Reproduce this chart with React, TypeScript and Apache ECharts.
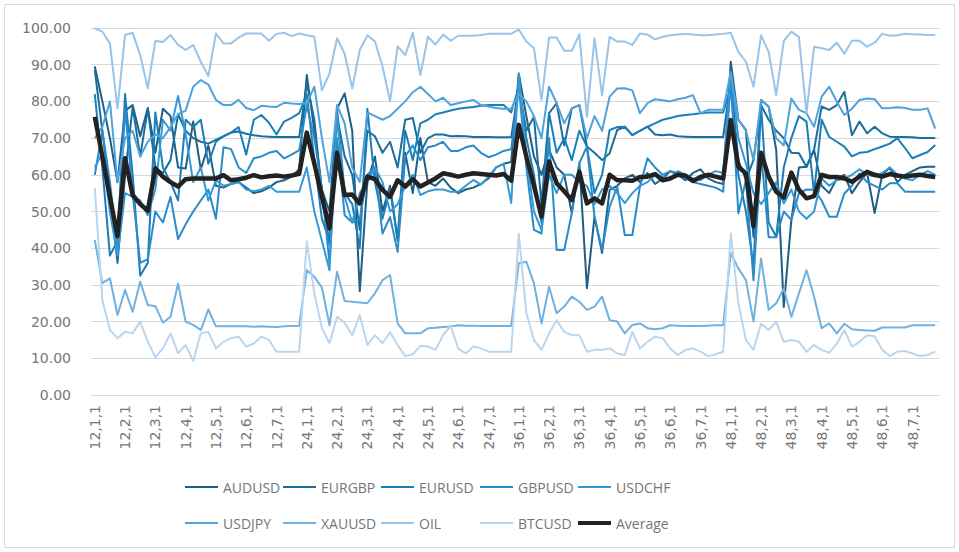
import React, { useEffect, useRef } from "react";
import * as echarts from "echarts";

const PERIODS = [12, 24, 36, 48];
const MONTHS = [1, 2, 3, 4, 5, 6, 7];
const WEEKS = [1, 2, 3, 4];
const CATEGORIES = PERIODS.flatMap((p) => MONTHS.flatMap((m) => WEEKS.map((w) => `${p},${m},${w}`)));

const AUDUSD = [
  89.5, 80, 70, 58, 77.5, 79, 70.5, 78.2, 66, 78, 76, 62, 61.7, 74.5, 61.5, 68, 57, 56.5, 57.5, 58, 56.5, 55, 55.5, 56.5, 58, 58.5, 59.5, 61.5,
  87.2, 72, 56, 50, 78, 82.2, 72, 28.3, 58, 65, 50, 57, 42, 66, 55, 70, 58, 57, 59, 56.5, 55, 56, 56.5, 57.5, 59, 62, 63, 63.5,
  87.6, 76, 65, 60, 66.8, 62, 60, 49.5, 63.2, 29.1, 48.6, 38.7, 55.9, 57, 59, 60, 58, 60.5, 57.5, 59, 61, 60, 58.5, 60.5, 61.5, 59, 58, 57.5,
  90.8, 75, 72.2, 43.1, 80.4, 78.6, 66.8, 24, 47.7, 62, 62.2, 66.8, 57, 55, 59, 60, 55, 58, 60.5, 49.6, 60, 62, 58, 60, 61, 62, 62.2, 62.2,
];
const EURGBP = [
  88.5, 72, 55, 36, 60, 78.5, 65, 78, 62, 60.5, 64, 76.5, 72, 70, 69, 68.5, 69.5, 70.5, 71.5, 71.8, 71.2, 70.8, 70.5, 70.4, 70.3, 70.3, 70.3, 70.3,
  85, 75, 55, 41, 76, 65, 60, 45, 72, 70.5, 66, 69, 62, 75, 75.5, 66, 70, 71, 71, 70.5, 70.6, 70.5, 70.3, 70.3, 70.3, 70.2, 70.2, 70.2,
  84, 72, 75.8, 52, 76.8, 79.5, 68, 78.1, 79, 67.7, 66, 64, 65.9, 72.2, 73.1, 70.8, 72, 73.1, 71, 70.8, 71, 70.5, 70.4, 70.3, 70.3, 70.3, 70.3, 70.3,
  85.8, 64, 58.6, 64, 79, 75, 72, 70, 66, 65.9, 62.2, 66.8, 78.6, 77.7, 79, 82.6, 70.8, 74.5, 71.3, 73.1, 71.3, 70.4, 70.3, 70.3, 70.2, 70, 70, 70,
];
const EURUSD = [
  82, 62, 38, 42, 82, 60, 32.5, 36, 77, 62, 58, 53, 75, 73, 75, 63, 69, 70.5, 71.5, 73, 65.5, 75, 76.3, 74.2, 71, 74.5, 75.5, 76.8,
  82, 64, 48, 42, 78, 55, 52, 40, 78, 58, 48, 56, 42.6, 72, 64, 74, 75, 76.5, 77, 77.5, 78, 78.3, 78.5, 78.8, 79, 79, 79, 77,
  84, 70, 60, 46.9, 76.8, 66, 70, 64, 72, 67.7, 55, 60, 72.2, 73, 73.1, 70.8, 72, 73.1, 74, 75, 75.5, 76, 76.3, 76.5, 76.8, 77, 77, 77,
  84, 60, 50, 35, 79, 47, 43.1, 62, 70, 76, 74.5, 55, 75, 70.3, 69, 67.7, 65, 66, 66.2, 67, 67.7, 68.5, 70, 67.3, 64.5, 65.4, 66.2, 68.1,
];
const GBPUSD = [
  60, 72, 58, 40, 78, 55, 36, 37, 50, 47, 54, 42.5, 46.5, 50, 53, 56, 48, 67.5, 67, 62, 60.5, 64.5, 65, 66, 66.5, 64.5, 65.5, 66.7,
  79, 70, 56, 36, 70, 49, 47, 48, 60, 62, 44, 48.5, 39, 65, 68, 64, 67.5, 68, 69, 66.5, 66.5, 67.5, 68, 66, 64.8, 65.5, 66.5, 67,
  84, 62, 45, 44, 70, 39.5, 39.5, 49.5, 63.2, 67.7, 48.6, 39.5, 51.3, 56.8, 43.6, 43.6, 56.8, 64.5, 62, 60, 61, 60.5, 59, 58, 57.5, 57, 56.5, 55.4,
  85.8, 49.5, 58.6, 31.3, 66, 43, 43, 50, 47.7, 55, 56, 55.9, 53, 48.6, 48.6, 54.9, 57, 60.4, 58, 57, 56, 57.7, 57.7, 55.4, 55.4, 55.4, 55.4, 55.4,
];
const USDCHF = [
  62, 66, 50, 38, 55, 54, 53, 49, 56, 75, 72, 81.5, 71, 58, 62, 53, 58.5, 57, 57.5, 58, 56, 55.5, 56, 57, 55.4, 55.4, 55.4, 55.4,
  62, 50, 42, 34, 76, 54, 47, 55, 58, 62, 58, 50, 52, 57, 60, 54.5, 55.5, 56, 56, 55.4, 55.4, 57, 58.6, 57.3, 59.5, 62, 63, 52.3,
  87.6, 65, 50, 45, 60, 55, 60, 60, 58, 57, 52, 56, 57, 55, 52.3, 55, 57, 58, 60, 59.5, 59, 61, 60, 59, 58.5, 60, 61, 60.5,
  88, 70, 63, 55, 52, 55, 58, 52.2, 56, 50, 48, 50, 59, 57, 58.5, 59, 60, 61.5, 60, 59.5, 60.5, 62, 60, 59, 58.5, 60, 61, 60,
];
const USDJPY = [
  70, 73, 80, 58, 70, 72, 65, 69, 71, 70, 73, 76.5, 77.5, 84, 85.8, 84.6, 80.4, 79, 79, 80.4, 78.2, 77.6, 78.8, 78.6, 78.5, 79.6, 79.4, 79.3,
  79.5, 84, 70, 58, 79, 74, 62, 58, 77, 76, 75, 76, 78, 80, 82.5, 84, 82, 80, 81, 79, 79.5, 80, 80.4, 79, 78.6, 78.2, 78, 78,
  82, 80, 76, 70, 84, 79.5, 74, 78.1, 79, 70, 76, 72, 81.3, 83.5, 83.6, 83, 76.8, 79.5, 80.6, 80.3, 80, 80.6, 81, 81.7, 76.8, 77.7, 77.7, 77.7,
  88, 75, 72, 64, 80.4, 78.6, 70, 68, 80.8, 77.7, 76.8, 73.1, 81.3, 84, 79.9, 76.3, 78, 80.4, 80.8, 80.6, 78.1, 78.2, 78.4, 78.2, 77.7, 77.7, 78.1, 72.6,
];
const XAUUSD = [
  42.2, 30.5, 31.8, 21.8, 28.6, 22.7, 30.9, 24.5, 24.2, 19.7, 21.3, 30.4, 20, 19.1, 17.7, 23.3, 18.7, 18.7, 18.7, 18.7, 18.7, 18.6, 18.7, 18.6, 18.5, 18.7, 18.8, 18.9,
  34, 32.2, 29.3, 19, 33.6, 25.6, 25.4, 25.2, 25, 27.7, 31.3, 32.7, 19.5, 16.8, 16.8, 16.8, 18.2, 18.3, 18.5, 18.7, 19, 18.9, 18.9, 18.8, 18.8, 18.8, 18.8, 18.8,
  35.9, 36.3, 30.4, 19.5, 29.5, 22.3, 24.1, 26.8, 25.4, 23.2, 24.1, 26.8, 20.4, 20, 16.8, 19.1, 19.5, 18.2, 17.9, 18.2, 19, 18.9, 18.8, 18.8, 18.8, 18.9, 19, 19,
  38.6, 34.5, 31.3, 20, 37.2, 23.2, 25, 29, 21.3, 27.7, 34, 26.8, 18.2, 19.5, 16.8, 19.4, 17.9, 17.7, 17.6, 17.5, 18.4, 18.4, 18.4, 18.4, 19, 19, 19, 19,
];
const OIL = [
  99.9, 99, 95.8, 78.1, 98.1, 98.7, 92.6, 83.6, 96.5, 96.2, 98.1, 95.4, 94, 95.4, 90.8, 86.9, 98.5, 95.8, 95.8, 97.4, 98.5, 98.5, 98.5, 96.5, 98.4, 98.7, 97.8, 98.5,
  98, 97.6, 83, 87.6, 97.2, 93, 83.5, 94, 98, 96.3, 89.5, 80, 95, 92.6, 98.7, 87.2, 97.6, 95.5, 98.2, 96.5, 97.9, 97.9, 97.9, 98.1, 98.4, 98.4, 98.4, 98.4,
  99.6, 96.3, 94.5, 80.4, 97.4, 97.4, 93.8, 93.8, 98.3, 75.8, 97.2, 81.7, 97.6, 96.3, 96.3, 95.4, 98.5, 98.2, 96.9, 97.6, 98, 98.2, 98.4, 98.2, 98, 98, 98.2, 98.4,
  98.7, 93.5, 90.8, 84, 98, 93.5, 81.7, 96.5, 99, 97.6, 76.8, 94.9, 94.5, 94, 96, 93, 96.5, 96.5, 94.9, 96, 98.4, 97.9, 98, 98.4, 98.3, 98.2, 98.1, 98.1,
];
const BTCUSD = [
  56.3, 25.9, 17.7, 15.5, 17.2, 16.8, 20, 14.5, 10.3, 12.7, 16.8, 11.4, 13.6, 9.3, 16.8, 17.2, 12.7, 14.5, 15.5, 15.9, 13.2, 14, 15.9, 15, 11.8, 11.8, 11.8, 11.8,
  41.8, 27.7, 18.2, 14.1, 21.3, 19.7, 16.3, 21.8, 13.6, 16.3, 14.1, 17.1, 13.6, 10.6, 11.1, 13.4, 13.2, 12.3, 16.3, 18.8, 12.7, 11.3, 13.2, 12.7, 11.8, 11.8, 11.8, 11.8,
  44, 22.3, 15, 12.3, 16.8, 20.4, 17.2, 16.3, 16.3, 11.8, 12.3, 12.3, 12.7, 11.3, 10.9, 17.2, 12.7, 14.5, 15.9, 15.5, 12.7, 10.9, 12.3, 12.7, 11.8, 10.6, 11.1, 11.8,
  44, 25, 15, 12.3, 19.5, 17.7, 20, 14.5, 15, 14.5, 11.8, 13.6, 12.3, 11.5, 14, 17.7, 13.2, 14.5, 16.3, 16, 12.3, 10.6, 11.8, 12, 11.3, 10.6, 10.9, 11.8,
];
const AVERAGE = [
  75.8, 65, 54, 43.3, 64.5, 54.5, 52, 50.2, 61.8, 59.5, 58, 56.8, 58.8, 59, 59, 59, 59, 59.9, 58.5, 58.8, 59.2, 59.9, 59.3, 59.6, 59.8, 59.5, 59.8, 60.3,
  71.5, 63, 54, 45.4, 66, 54.5, 54.6, 52.2, 59.5, 58.8, 55.9, 54, 58.5, 56.8, 58.8, 56.8, 57.9, 59, 60.4, 60, 59.5, 60, 60.4, 60.2, 60, 59.8, 60.2, 58.4,
  73.6, 65, 57, 48.6, 63.6, 57.7, 55.5, 53.1, 60.8, 52.2, 53.6, 52.2, 60, 58.5, 58.5, 58.4, 59.4, 59.5, 60.2, 58.5, 59, 60, 59.8, 58.3, 59.4, 60, 59.5, 59,
  74.9, 62.2, 60.4, 46, 66, 59.5, 55.4, 53.8, 60.6, 55.9, 53.6, 54.2, 60, 59.4, 59.4, 59, 58.1, 59.5, 60.8, 60, 59.5, 60.2, 59.8, 59.5, 59.8, 60, 59.7, 59.4,
];

const SERIES_NAMES = ["AUDUSD", "EURGBP", "EURUSD", "GBPUSD", "USDCHF", "USDJPY", "XAUUSD", "OIL", "BTCUSD", "Average"];
const SERIES_DATA = [AUDUSD, EURGBP, EURUSD, GBPUSD, USDCHF, USDJPY, XAUUSD, OIL, BTCUSD, AVERAGE];
const COLORS = ["#1f5e85", "#1b6d9e", "#1a7fb8", "#2a8bcb", "#3598d6", "#4ea3dd", "#70b1e2", "#98c4ea", "#bad6ef", "#222222"];

const TEXT_COLOR = "#767676";
const GRID_COLOR = "#d9d9d9";

export default function App() {
  const ref = useRef<HTMLDivElement>(null);

  useEffect(() => {
    if (!ref.current) return;
    const chart = echarts.init(ref.current, undefined, { renderer: "svg" });
    const colLeft = [185, 283, 381, 480, 578];
    const rowTop = [480, 516];
    const legends = SERIES_NAMES.map((name, i) => ({
      data: [{ name, icon: "rect", itemStyle: { color: COLORS[i] } }],
      left: colLeft[i % 5],
      top: rowTop[Math.floor(i / 5)],
      padding: 0,
      itemWidth: 33,
      itemHeight: name === "Average" ? 4 : 2,
      itemGap: 0,
      textStyle: { color: TEXT_COLOR, fontSize: 14, fontFamily: "Open Sans" },
      selectedMode: false,
    }));
    chart.setOption({
      animation: false,
      backgroundColor: "#ffffff",
      graphic: [
        {
          type: "rect",
          shape: { x: 4.5, y: 4.5, width: 950, height: 543 },
          style: { fill: "none", stroke: GRID_COLOR, lineWidth: 1 },
          silent: true,
        },
      ],
      legend: legends,
      grid: { left: 91, right: 20, top: 28, bottom: 157, containLabel: false },
      xAxis: {
        type: "category",
        data: CATEGORIES,
        boundaryGap: true,
        axisLine: { show: true, lineStyle: { color: GRID_COLOR, width: 1 } },
        axisTick: { show: false },
        axisLabel: {
          interval: 3,
          rotate: 90,
          color: TEXT_COLOR,
          fontSize: 14,
          fontFamily: "DejaVu Sans",
          margin: 10,
        },
      },
      yAxis: {
        type: "value",
        min: 0,
        max: 100,
        interval: 10,
        axisLine: { show: false },
        axisTick: { show: false },
        splitLine: { lineStyle: { color: GRID_COLOR, width: 1 } },
        axisLabel: {
          color: TEXT_COLOR,
          fontSize: 14,
          fontFamily: "DejaVu Sans",
          margin: 20,
          formatter: (v: number) => v.toFixed(2),
        },
      },
      series: SERIES_NAMES.map((name, i) => ({
        name,
        type: "line",
        data: SERIES_DATA[i],
        symbol: "none",
        smooth: false,
        z: name === "Average" ? 5 : 2,
        lineStyle: { color: COLORS[i], width: name === "Average" ? 4.5 : 2, join: "round" },
        itemStyle: { color: COLORS[i] },
      })),
    });
    return () => chart.dispose();
  }, []);

  return (
    <div
      ref={ref}
      style={{ position: "absolute", left: 0, top: 0, width: 959, height: 552 }}
    />
  );
}
